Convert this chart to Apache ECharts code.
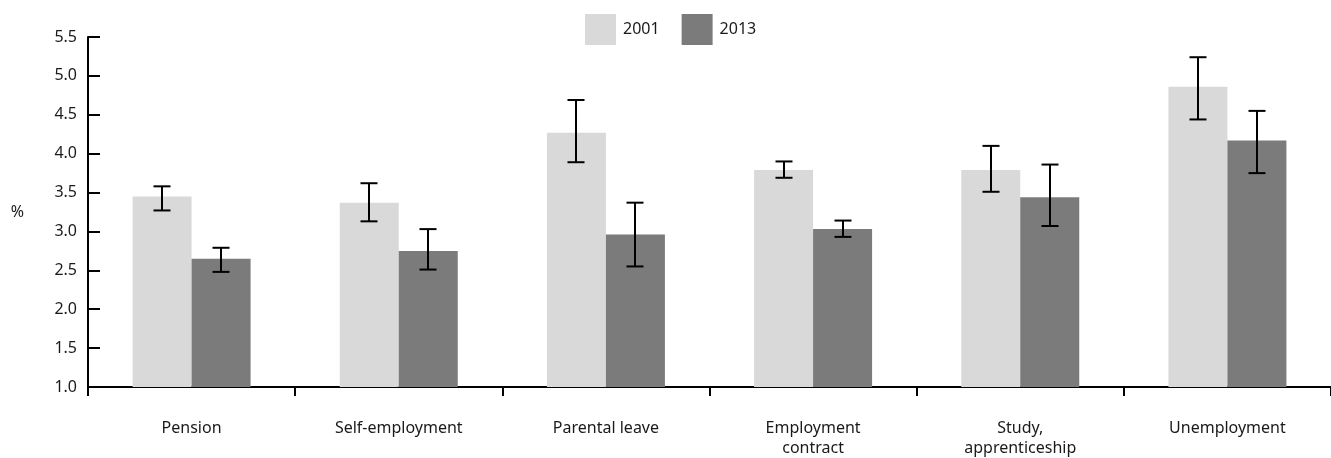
<!DOCTYPE html>
<html>
<head>
<meta charset="utf-8">
<script src="https://cdn.jsdelivr.net/npm/echarts@6/dist/echarts.min.js"></script>
<style>
html,body{margin:0;padding:0;background:#fff;}
#chart{width:1331px;height:458px;}
</style>
</head>
<body>
<div id="chart"></div>
<script>
const categories = ['Pension', 'Self-employment', 'Parental leave', 'Employment\ncontract', 'Study,\napprenticeship', 'Unemployment'];
const seriesNames = ['2001', '2013'];
const values2001 = [3.45, 3.37, 4.27, 3.79, 3.79, 4.86];
const values2013 = [2.65, 2.75, 2.96, 3.03, 3.44, 4.17];
const err2001Low = [3.27, 3.13, 3.89, 3.69, 3.51, 4.44];
const err2001High = [3.58, 3.62, 4.69, 3.90, 4.10, 5.24];
const err2013Low = [2.48, 2.51, 2.55, 2.93, 3.07, 3.75];
const err2013High = [2.79, 3.03, 3.37, 3.14, 3.86, 4.55];
const yTicks = ['1.0','1.5','2.0','2.5','3.0','3.5','4.0','4.5','5.0','5.5'];

const FONT = 'Noto Sans';
const FS = 16;
const TXT = '#1a1a1a';
const BAR_W = 59;
const CAP = 17;

function errRender(offset) {
  return function (params, api) {
    const idx = api.value(0);
    const pLow = api.coord([idx, api.value(1)]);
    const pHigh = api.coord([idx, api.value(2)]);
    const x = Math.round(pLow[0] + offset);
    const style = { stroke: '#000', lineWidth: 2 };
    return {
      type: 'group',
      children: [
        { type: 'line', shape: { x1: x, y1: pHigh[1], x2: x, y2: pLow[1] }, style: style },
        { type: 'line', shape: { x1: x - CAP / 2, y1: pHigh[1], x2: x + CAP / 2, y2: pHigh[1] }, style: style },
        { type: 'line', shape: { x1: x - CAP / 2, y1: pLow[1], x2: x + CAP / 2, y2: pLow[1] }, style: style }
      ]
    };
  };
}

const chart = echarts.init(document.getElementById('chart'), null, { renderer: 'canvas' });
chart.setOption({
  animation: false,
  textStyle: { fontFamily: FONT },
  legend: {
    data: seriesNames,
    icon: 'rect',
    top: 9,
    left: 580,
    itemWidth: 31,
    itemHeight: 31,
    itemGap: 22,
    textStyle: { fontFamily: FONT, fontSize: FS, color: TXT, padding: [0, 0, 0, 2] }
  },
  grid: { left: 88, right: -3, top: 37, bottom: 71, containLabel: false },
  xAxis: {
    type: 'category',
    data: categories,
    axisLine: { lineStyle: { color: '#000', width: 2 } },
    axisTick: { show: true, length: 9, lineStyle: { color: '#000', width: 2 } },
    axisLabel: { margin: 31, fontFamily: FONT, fontSize: FS, color: TXT, lineHeight: 20, interval: 0 }
  },
  yAxis: {
    type: 'value',
    min: 1,
    max: 5.5,
    interval: 0.5,
    name: '%',
    nameLocation: 'middle',
    nameRotate: 0,
    nameGap: 64,
    nameTextStyle: { fontFamily: FONT, fontSize: FS, color: TXT },
    splitLine: { show: false },
    axisLine: { show: true, lineStyle: { color: '#000', width: 2 } },
    axisTick: { show: true, inside: true, length: 12, lineStyle: { color: '#000', width: 2 } },
    axisLabel: {
      margin: 11,
      fontFamily: FONT, fontSize: FS, color: TXT,
      formatter: function (v) { return yTicks[Math.round((v - 1) / 0.5)]; }
    }
  },
  series: [
    {
      name: seriesNames[0], type: 'bar', data: values2001, barWidth: BAR_W, barGap: '0%',
      itemStyle: { color: '#d9d9d9' }
    },
    {
      name: seriesNames[1], type: 'bar', data: values2013, barWidth: BAR_W, barGap: '0%',
      itemStyle: { color: '#7b7b7b' }
    },
    {
      type: 'custom', name: 'err2001', renderItem: errRender(-BAR_W / 2),
      data: categories.map((c, i) => [i, err2001Low[i], err2001High[i]]),
      encode: { x: 0, y: [1, 2] }, z: 10
    },
    {
      type: 'custom', name: 'err2013', renderItem: errRender(BAR_W / 2),
      data: categories.map((c, i) => [i, err2013Low[i], err2013High[i]]),
      encode: { x: 0, y: [1, 2] }, z: 10
    }
  ]
});
</script>
</body>
</html>
